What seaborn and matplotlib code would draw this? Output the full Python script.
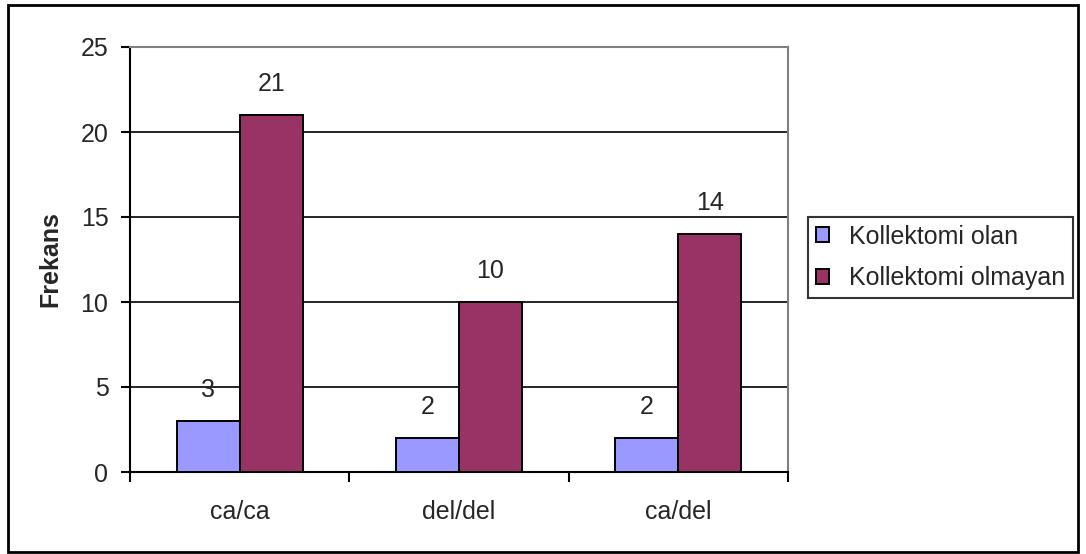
import matplotlib
matplotlib.use("Agg")
import matplotlib.pyplot as plt
from matplotlib.patches import Rectangle
import seaborn as sns
import pandas as pd

categories = ["ca/ca", "del/del", "ca/del"]
series_names = ["Kollektomi olan", "Kollektomi olmayan"]
kollektomi_olan = [3, 2, 2]
kollektomi_olmayan = [21, 10, 14]
y_ticks = [0, 5, 10, 15, 20, 25]
colors = ["#9999FF", "#993366"]

df = pd.DataFrame({
    "Genotip": categories * 2,
    "Grup": [series_names[0]] * 3 + [series_names[1]] * 3,
    "Frekans": kollektomi_olan + kollektomi_olmayan,
})

sns.set_style("white")
plt.rcParams["font.family"] = ["Liberation Sans", "DejaVu Sans"]
FS = 18

fig = plt.figure(figsize=(10.86, 5.54), dpi=100)
ax = fig.add_axes([130 / 1086, 1 - 472 / 554, (788 - 130) / 1086, (472 - 47) / 554])

sns.barplot(data=df, x="Genotip", y="Frekans", hue="Grup", palette=colors,
            saturation=1, width=0.575, edgecolor="black", linewidth=1.4,
            ax=ax, legend=False, zorder=3)

for cont in ax.containers:
    ax.bar_label(cont, padding=14, fontsize=FS)

ax.set_xlim(-0.5, 2.5)
ax.set_ylim(0, 25)
ax.set_yticks(y_ticks)
ax.set_yticklabels([str(t) for t in y_ticks], fontsize=FS)
ax.yaxis.grid(True, color="black", linewidth=1.2, zorder=0)
ax.set_axisbelow(True)

ax.set_xticks(range(len(categories)))
ax.set_xticklabels(categories, fontsize=FS)
ax.set_xticks([-0.5, 0.5, 1.5, 2.5], minor=True)
ax.tick_params(axis="x", which="major", length=0, pad=20)
ax.tick_params(axis="x", which="minor", length=7, width=1.5, color="black", direction="out", bottom=True)
ax.tick_params(axis="y", which="major", length=6.5, width=1.5, color="black", direction="out", left=True, pad=9)

ax.set_xlabel("")
ax.set_ylabel("Frekans", fontsize=FS, fontweight="bold")
ax.yaxis.set_label_coords(-0.1033, 0.5)

for side in ["left", "bottom"]:
    ax.spines[side].set_color("black")
    ax.spines[side].set_linewidth(1.5)
for side in ["top", "right"]:
    ax.spines[side].set_visible(True)
    ax.spines[side].set_color("#808080")
    ax.spines[side].set_linewidth(1.5)

# Legend
handles = [Rectangle((0, 0), 1, 1, facecolor=c, edgecolor="black", linewidth=1.4) for c in colors]
leg = fig.legend(handles, series_names, loc="upper left",
                 bbox_to_anchor=(808 / 1086, 1 - 217 / 554), fontsize=FS,
                 frameon=True, fancybox=False, handlelength=0.55, handleheight=0.55,
                 handletextpad=0.8, borderpad=0.3, labelspacing=0.72, borderaxespad=0)
leg.get_frame().set_edgecolor("black")
leg.get_frame().set_linewidth(1.5)

# Chart border
fig.patches.append(Rectangle((8 / 1086, 2 / 554), (1078 - 8) / 1086, (549 - 2) / 554,
                             transform=fig.transFigure, fill=False,
                             edgecolor="black", linewidth=2))

fig.savefig("out.png", dpi=100)
